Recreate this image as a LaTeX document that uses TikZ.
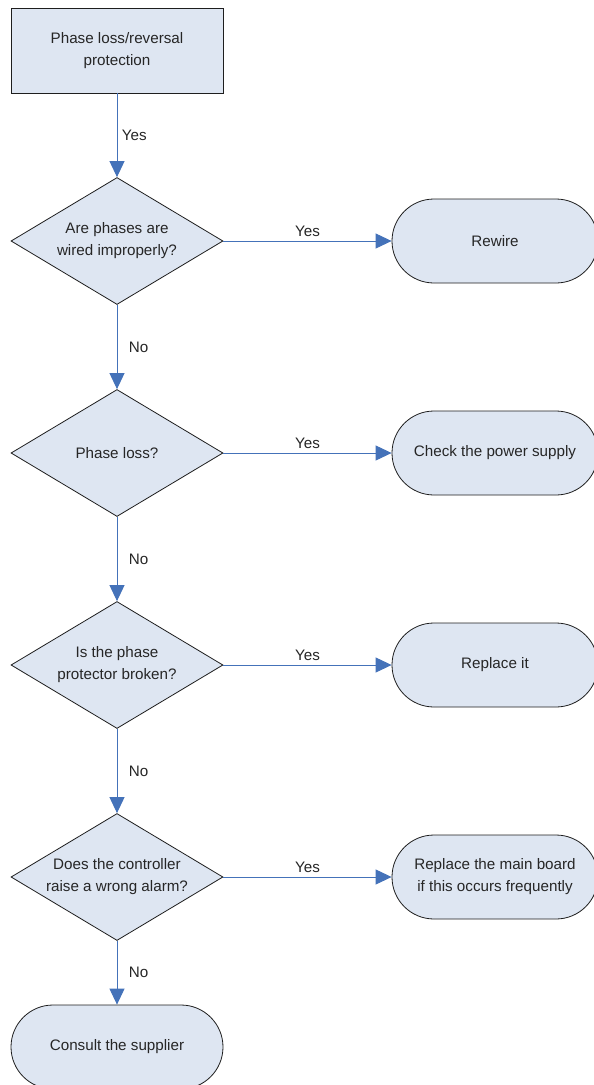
\documentclass[tikz,border=0pt]{standalone}
\usepackage{fontspec}
\setmainfont{Liberation Sans}
\usepackage{tikz}
\usetikzlibrary{arrows.meta,shapes.geometric,shapes.misc}
\definecolor{boxfill}{RGB}{222,230,242}
\definecolor{flowblue}{RGB}{68,114,185}
\definecolor{edgegray}{RGB}{30,30,30}
\tikzset{
  % common look of all shapes
  shapebase/.style={draw=edgegray, line width=0.8pt, fill=boxfill, inner sep=0pt,
    font=\fontsize{15.2}{22}\selectfont, text=black!85, align=center},
  procbox/.style={shapebase, rectangle, minimum width=212pt, minimum height=85pt},
  decision/.style={shapebase, diamond, aspect=1.67, minimum width=212pt, minimum height=127pt},
  terminal/.style={shapebase, rounded rectangle, minimum width=206pt, minimum height=84pt},
  % connectors
  flowarrow/.style={-{Triangle[length=16pt,width=15pt]}, line width=1pt, flowblue},
  edgelabel/.style={font=\fontsize{15.2}{18}\selectfont, text=black!85},
}
\begin{document}
\begin{tikzpicture}[x=1pt, y=-1pt]
  \useasboundingbox (0,0) rectangle (594,1085);
  % left column
  \node[procbox] (start) at (117,50.5) {Phase loss/reversal\\protection};
  \node[decision] (wiring) at (117,241) {Are phases are\\wired improperly?};
  \node[decision] (loss) at (117,453) {Phase loss?};
  \node[decision] (protector) at (117,665) {Is the phase\\protector broken?};
  \node[decision] (alarm) at (117,877) {Does the controller\\raise a wrong alarm?};
  \node[terminal, minimum width=212pt] (supplier) at (117,1047) {Consult the supplier};
  % right column
  \node[terminal] (rewire) at (495,241) {Rewire};
  \node[terminal] (power) at (495,453) {Check the power supply};
  \node[terminal] (replace) at (495,665) {Replace it};
  \node[terminal] (board) at (495,877) {Replace the main board\\if this occurs frequently};
  % downward flow
  \draw[flowarrow] (start) -- node[edgelabel, right=1pt] {Yes} (wiring);
  \draw[flowarrow] (wiring) -- node[edgelabel, right=8pt] {No} (loss);
  \draw[flowarrow] (loss) -- node[edgelabel, right=8pt] {No} (protector);
  \draw[flowarrow] (protector) -- node[edgelabel, right=8pt] {No} (alarm);
  \draw[flowarrow] (alarm) -- node[edgelabel, right=8pt] {No} (supplier);
  % yes branches
  \draw[flowarrow] (wiring) -- node[edgelabel, above=1pt] {Yes} (rewire);
  \draw[flowarrow] (loss) -- node[edgelabel, above=1pt] {Yes} (power);
  \draw[flowarrow] (protector) -- node[edgelabel, above=1pt] {Yes} (replace);
  \draw[flowarrow] (alarm) -- node[edgelabel, above=1pt] {Yes} (board);
\end{tikzpicture}
\end{document}
